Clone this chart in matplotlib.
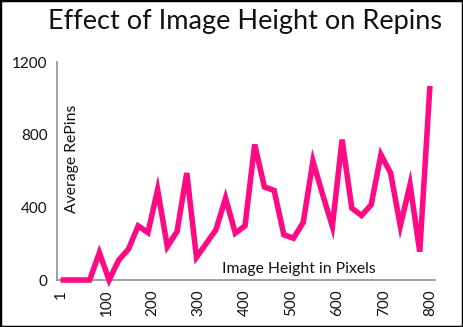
import matplotlib
matplotlib.use("Agg")
import matplotlib.pyplot as plt
from matplotlib.patches import Rectangle

# Data
heights = [1, 22, 43, 64, 85, 106, 127, 148, 169, 190, 211, 232, 253, 274, 295,
           316, 337, 358, 379, 400, 421, 442, 463, 484, 505, 526, 547, 568, 589,
           610, 631, 652, 673, 694, 715, 736, 757, 778, 800]
repins = [0, 0, 0, 0, 150, 0, 110, 170, 298, 261, 497, 184, 267, 589, 125, 200,
          276, 451, 258, 298, 746, 512, 493, 249, 230, 317, 654, 470, 295, 773,
          396, 355, 414, 690, 589, 298, 525, 156, 1068]
x_ticks = [1, 100, 200, 300, 400, 500, 600, 700, 800]
y_ticks = [0, 400, 800, 1200]
title = "Effect of Image Height on Repins"
x_label = "Image Height in Pixels"
y_label = "Average RePins"

plt.rcParams['font.family'] = ['Lato', 'DejaVu Sans']

fig = plt.figure(figsize=(4.63, 3.27), dpi=100)
fig.patch.set_facecolor('white')
ax = fig.add_axes([57.3/463, 1-280/327, (435-57.3)/463, (280-62)/327])

ax.plot(heights, repins, color='#FF0A84', lw=4.0, solid_joinstyle='miter',
        solid_capstyle='butt', clip_on=False, zorder=3)

ax.set_xlim(-6, 811)
ax.set_ylim(0, 1200)
ax.set_xticks(x_ticks)
ax.set_xticklabels([str(t) for t in x_ticks], rotation=90, fontsize=11, color='#111111')
ax.set_yticks(y_ticks)
ax.set_yticklabels([str(t) for t in y_ticks], fontsize=11, color='#111111')
ax.tick_params(axis='both', length=0)
ax.tick_params(axis='x', pad=7)
ax.tick_params(axis='y', pad=7)

for s in ['top', 'right']:
    ax.spines[s].set_visible(False)
for s in ['left', 'bottom']:
    ax.spines[s].set_color('#999999')
    ax.spines[s].set_linewidth(1.3)

fig.text(72/463, 1-159/327, y_label, rotation=90,
         ha='center', va='center', fontsize=11.3, color='#111111')
fig.text(299/463, 1-269/327, x_label,
         ha='center', va='center', fontsize=11.3, color='#111111')

fig.text(245/463, 1-21/327, title, ha='center', va='center', fontsize=19.5, color='#111111')

fig.patches.append(Rectangle((0, 0), 1, 1, transform=fig.transFigure, fill=False,
                             edgecolor='black', linewidth=2.5))

fig.savefig("out.png", dpi=100, facecolor='white')
